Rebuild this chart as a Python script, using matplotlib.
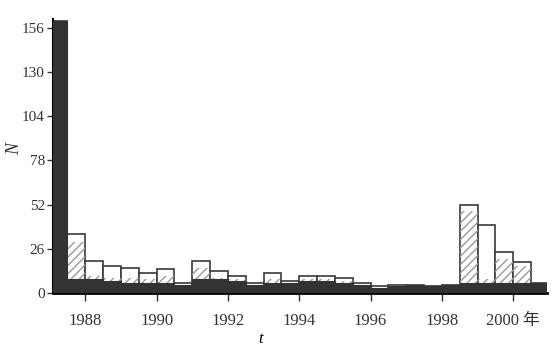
import numpy as np
import matplotlib.pyplot as plt

plt.rcParams['font.family'] = ['Liberation Serif', 'Noto Sans CJK SC']

# half-year bins, start of each bin
bin_start = [1987.0 + 0.5 * i for i in range(28)]

# total count per bin (white bars)
total = [160, 35, 19, 16, 15, 12, 14, 6, 19, 13, 10, 6, 12, 7, 10, 10,
         9, 6, 4, 5, 5, 4, 5, 52, 40, 24, 18, 6]
# shaded part inside the bars
shaded = [160, 30, 10, 9, 9, 8, 10, 5, 15, 9, 8, 5, 8, 6, 8, 8,
          7, 5, 3, 4, 5, 4, 5, 48, 8, 20, 16, 6]
# dark part at the bottom
dark = [160, 8, 8, 7, 6, 6, 6, 5, 8, 8, 7, 5, 6, 6, 7, 7,
        6, 5, 3, 4, 5, 4, 5, 6, 6, 6, 6, 6]

years = [1988, 1990, 1992, 1994, 1996, 1998, 2000]
year_labels = ['1988', '1990', '1992', '1994', '1996', '1998', '2000 年']
yticks = [0, 26, 52, 78, 104, 130, 156]

fig = plt.figure(figsize=(5.6, 3.46), dpi=100)
ax = fig.add_axes([0.095, 0.153, 0.882, 0.791])

x = np.array(bin_start)
ax.bar(x, total, width=0.5, align='edge', color='white',
       edgecolor='#3a3a3a', linewidth=1.2, zorder=2)
ax.bar(x, shaded, width=0.5, align='edge', color='none',
       edgecolor='#999999', hatch='////', linewidth=0, zorder=3)
ax.bar(x, dark, width=0.5, align='edge', color='#333333',
       edgecolor='#333333', linewidth=0.8, zorder=4)

ax.set_xlim(1987.1, 2000.95)
ax.set_ylim(0, 161)
ax.set_xticks(years)
ax.set_xticklabels(year_labels, fontsize=12)
ax.set_yticks(yticks)
ax.set_yticklabels([str(v) for v in yticks], fontsize=11)
ax.tick_params(direction='out', width=1, colors='#333333')
ax.tick_params(axis='y', length=4, pad=2)
ax.tick_params(axis='x', length=6, pad=8)

for s in ['top', 'right']:
    ax.spines[s].set_visible(False)
ax.spines['left'].set_linewidth(1.5)
ax.spines['bottom'].set_linewidth(2)

ax.set_xlabel('t', fontstyle='italic', fontsize=12, x=0.42, labelpad=2)
fig.text(0.027, 0.57, 'N', fontstyle='italic', fontsize=13, rotation=90,
         ha='center', va='center', color='#333333')

fig.savefig('out.png', dpi=100)
